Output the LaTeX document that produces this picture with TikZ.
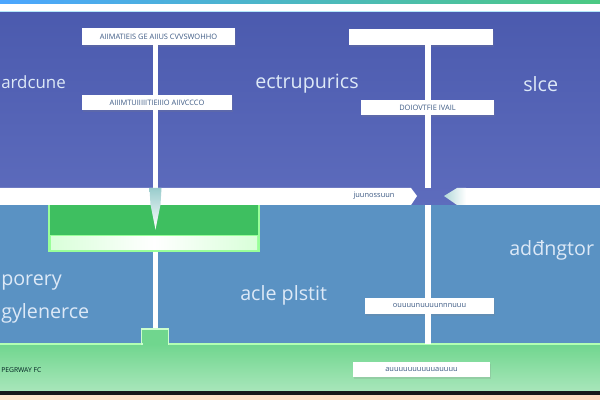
\documentclass[tikz,border=0pt]{standalone}
\usepackage{fontspec}
\newfontfamily\schrift{Open Sans}
\usetikzlibrary{calc,shadows}
\definecolor{dunkelblau}{HTML}{4F5FB7}
\definecolor{mittelblau}{HTML}{5A92C3}
\definecolor{kastengruen}{HTML}{3EBF60}
\definecolor{bodengruen}{HTML}{70D68E}
\definecolor{hellschrift}{HTML}{DDE9F7}
\definecolor{kastentext}{HTML}{3D5A84}

\begin{document}
\begin{tikzpicture}[x=.025cm,y=-.025cm,
  kasten/.style={fill=white,inner sep=0pt,text=kastentext,font=\schrift\fontsize{5.3}{6}\selectfont,
    drop shadow={opacity=.2,shadow xshift=.03cm,shadow yshift=-.04cm}},
  linie/.style={white,line width=4.2pt},
  gross/.style={text=hellschrift,inner sep=0pt,font=\schrift\fontsize{14}{16}\selectfont}]
  \useasboundingbox (0,0) rectangle (600,400);
  % Flaechen
  \shade[top color=dunkelblau!95!black,bottom color=dunkelblau!92!white] (0,11) rectangle (600,205);
  \fill[mittelblau] (0,205) rectangle (600,344);
  \shade[top color=bodengruen,bottom color=bodengruen!60!white] (0,344) rectangle (600,392);
  \draw[green!30!white,line width=.8pt] (0,344) -- (600,344);
  \shade[left color=blue!50!cyan!70!white,right color=teal!60!green!70!white] (0,0) rectangle (600,4);
  \fill[white] (0,4) rectangle (600,11);
  \draw[cyan!30!white,line width=.5pt] (0,11) -- (600,11);
  \fill[black!90] (0,391) rectangle (600,396);
  \shade[left color=orange!20!white,right color=red!15!orange!25!white] (0,396) rectangle (600,400);
  % Band
  \fill[white] (0,188) -- (411,188) -- (417,196) -- (411,205) -- (0,205) -- cycle;
  \fill[white] (465,188) rectangle (600,205);
  \shade[left color=teal!30!white,right color=white] (466,188) -- (457,188) -- (444,196) -- (457,205) -- (466,205) -- cycle;
  \node[text=kastentext,font=\schrift\fontsize{5.3}{6}\selectfont] (band) at (374,196) {juunossuun};
  % Gruener Kasten
  \fill[green!40!white] (48,205) rectangle (260,252);
  \fill[kastengruen] (50,205) rectangle (258,235);
  \shade[left color=green!15!white,right color=green!15!white,middle color=white] (51,237) rectangle (257,250);
  \node[inner sep=0pt,minimum width=5.3cm,minimum height=1.175cm] (gk) at (154,228.5) {};
  % Kaesten
  \coordinate (lx) at (155.5,0);
  \coordinate (rx) at (428,0);
  \node[kasten,minimum width=3.825cm,minimum height=.425cm] (b1) at (158.5,36.5) {AIIMATIEIS GE AIIUS CVVSWOHHO};
  \node[kasten,minimum width=3.75cm,minimum height=.375cm] (b2) at (157,102.5) {AIIIMTUIIIIITIEIIIO AIIVCCCO};
  \node[kasten,minimum width=3.6cm,minimum height=.4cm] (b3) at (421,37) {};
  \node[kasten,minimum width=3.325cm,minimum height=.375cm] (b4) at (427.5,107.5) {DOIOVTFIE IVAIL};
  \node[kasten,minimum width=3.225cm,minimum height=.4cm] (b5) at (429.5,306) {ouuuunuuuunnnuuu};
  \node[kasten,minimum width=3.425cm,minimum height=.375cm] (b6) at (421.5,369.5) {auuuuuuuuuuauuuu};
  \coordinate (bo) at (0,188);
  \coordinate (bu) at (0,205);
  \coordinate (gl) at (0,344);
  % Verbindungen
  \draw[linie] (b1.south -| lx) -- (b2.north -| lx);
  \draw[linie] (b2.south -| lx) -- (bo -| lx);
  \shade[top color=teal!40!white,bottom color=white] ($(bo -| lx)+(-6,0)$) -- ($(bo -| lx)+(6,0)$) -- ($(gk.north -| lx)+(5,0)$) -- ($(gk.north -| lx)+(0,25)$) -- ($(gk.north -| lx)+(-5,0)$) -- cycle;
  \draw[linie] (b3.south -| rx) -- (b4.north -| rx);
  \draw[linie] (b4.south -| rx) -- (bo -| rx);
  \draw[linie] (bu -| rx) -- (b5.north -| rx);
  \draw[linie] (b5.south -| rx) -- (gl -| rx);
  \draw[linie] (gk.south -| lx) -- ($(gl -| lx)+(0,-15)$) coordinate (st);
  \filldraw[fill=bodengruen,draw=green!20!white,line width=.8pt] ($(st)+(-14,0)$) rectangle ($(gl -| lx)+(13,0)$);
  \fill[bodengruen] ($(gl -| lx)+(-13,-1)$) rectangle ($(gl -| lx)+(12,1.5)$);
  % Beschriftungen
  \node[gross,anchor=base west,font=\schrift\fontsize{12}{14}\selectfont] (t1) at (1,89) {ardcune};
  \node[gross,anchor=base west] (t2) at (255,89) {ectrupurics};
  \node[gross,anchor=base west] (t3) at (523,92) {slce};
  \node[gross,anchor=base west] (t4) at (509,256) {adđngtor};
  \node[gross,anchor=base west] (t5) at (240,301) {acle plstit};
  \node[gross,anchor=base west] (t6) at (1,286) {porery};
  \node[gross,anchor=base west] (t7) at (1,319) {gylenerce};
  \node[text=black!75!teal,inner sep=0pt,anchor=west,font=\schrift\fontsize{4.8}{5}\selectfont] (t8) at (1,370) {PEGRWAY FC};
\end{tikzpicture}
\end{document}
